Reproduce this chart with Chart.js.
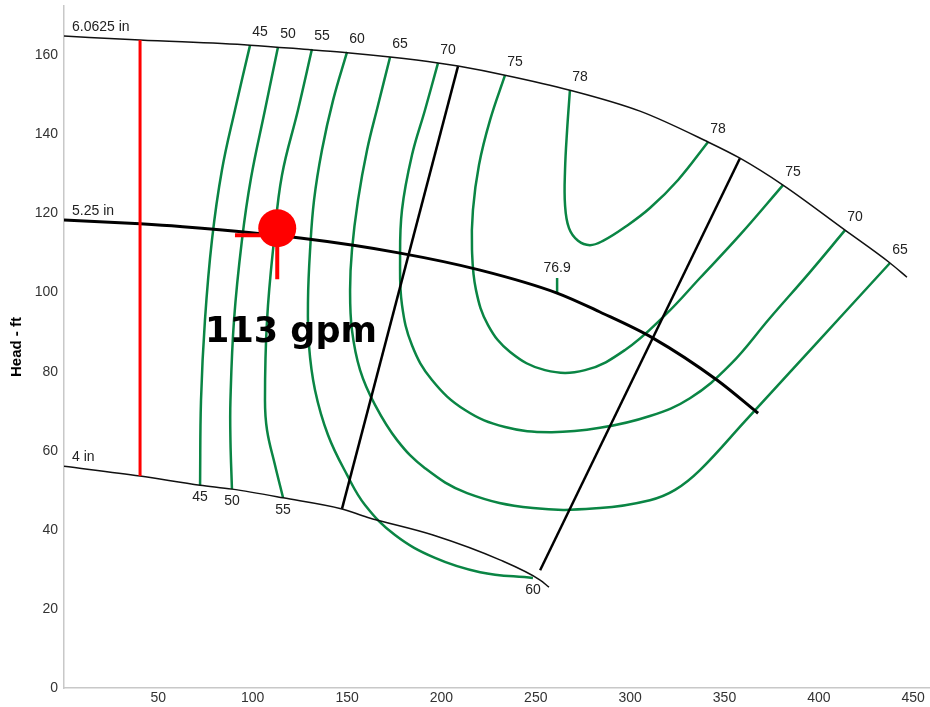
<!DOCTYPE html>
<html>
<head>
<meta charset="utf-8">
<script src="https://cdn.jsdelivr.net/npm/chart.js@4.4.1/dist/chart.umd.min.js"></script>
<style>
  html, body { margin: 0; padding: 0; background: #fff; }
  #wrap { width: 930px; height: 707px; }
</style>
</head>
<body>
<div id="wrap"><canvas id="pumpChart"></canvas></div>
<script>
// impeller curves, [flow gpm, head ft]
const dia60625 = [[0, 164.9], [40.3, 163.9], [98.6, 162.6], [131.4, 161.4], [150, 160.7],
  [172.8, 159.6], [198.2, 158.1], [208.8, 157.3], [233.7, 155], [268.1, 151.2], [305.2, 145.9],
  [341.3, 138.1], [358.2, 134], [381, 127.2], [413.9, 115.8], [437.7, 107.5], [446.7, 103.9]];
const dia525 = [[0, 118.4], [40.3, 117.4], [61.5, 116.7], [125.1, 113.8], [178.1, 110], [220.5, 105.7],
  [261.3, 99.9], [284, 95.1], [312.1, 88.5], [346, 77.9], [367.8, 69.5]];
const dia4 = [[0, 56.1], [40.3, 53.6], [72.1, 51.3], [89, 50.3], [116.1, 48.1], [147.3, 45.3],
  [160.6, 43.2], [195.5, 38.7], [231, 32.4], [252.3, 27.3], [257, 25.5]];
const diaNames = ['6.0625 in', '5.25 in', '4 in'];

// efficiency contours (%)
const eff45 = [[98.6, 162.6], [90.6, 146.2], [83.7, 131], [78.4, 113.3], [74.7, 93.1], [72.6, 72.8], [72.1, 51.3]];
const eff50 = [[113.4, 162.1], [106.5, 146.2], [99.1, 129], [94.3, 113.3], [90.1, 93.1], [88.2, 72.8], [88.2, 62.7], [89, 50.3]];
const eff55 = [[131.4, 161.6], [124, 146.2], [115.5, 129.7], [111.3, 113.3], [107.6, 93.1], [106.5, 72.8],
  [107.6, 65.2], [111.8, 56.4], [116.1, 48.1]];
const eff60 = [[150, 160.9], [142.6, 148.7], [136.7, 136.1], [132.5, 123.4], [130.4, 110.8], [129.3, 98.1],
  [129.8, 86.7], [133, 75.4], [139.9, 64], [150, 53.9], [159.5, 46.3], [175.4, 38.7], [196.6, 32.9],
  [220.5, 29.3], [248.5, 27.8]];
const eff65 = [[172.8, 159.6], [166.4, 147.4], [160.6, 136.1], [155.8, 123.4], [152.6, 110.8], [151.6, 100.7],
  [152.6, 90.5], [156.9, 80.4], [164.8, 71.6], [176.5, 62.7], [191.3, 55.6], [213.6, 49.3], [248.5, 45.5],
  [284, 45.5], [310.5, 47.5], [323.8, 50.1], [337, 55.1], [360.9, 67.5], [384.7, 79.9], [413.9, 95.1], [437.7, 107.5]];
const eff70 = [[198.2, 158.1], [191.3, 146.2], [184.4, 134.8], [179.1, 120.9], [178.1, 108.2], [179.1, 96.9],
  [184.4, 86.7], [195, 77.9], [212.5, 70.3], [233.7, 66], [257.6, 64.7], [284, 65.8], [310.5, 68.8],
  [331.7, 73.3], [352.9, 81.7], [374.1, 93.6], [395.3, 105.2], [413.9, 115.8]];
const eff75 = [[233.7, 155], [225.8, 143.7], [219.9, 132.3], [216.7, 120.9], [216.2, 110.8], [218.3, 100.7],
  [224.7, 91.8], [236.4, 85], [254.9, 80.4], [276.1, 80.4], [297.3, 85.5], [318.5, 94.3], [337, 103.7],
  [358.2, 114.6], [381, 127.2]];
const eff78 = [[268.1, 151.2], [266.6, 141.1], [265.5, 131], [265.5, 122.2], [267.6, 116.3], [272.4, 113.1],
  [278.7, 112], [285.6, 113.1], [297.3, 116.6], [310.5, 121.4], [325.4, 128.5], [341.3, 138.1]];
const effCurves = [eff45, eff50, eff55, eff60, eff65, eff70, eff75, eff78];
const effNames = ['45', '50', '55', '60', '65', '70', '75', '78'];

// operating region limits
const porLeft = [[208.8, 157.3], [147.3, 45.3]];
const porRight = [[358.2, 134], [252.3, 29.8]];

// minimum flow line
const minFlow = [[40.3, 163.9], [40.3, 53.6]];

// best efficiency point on 5.25 in
const bepTick = [[261.3, 99.9], [261.3, 103.7]];
const bepName = '76.9';

// duty point
const opPoint = [[113, 116.3]];
const opCross = [[90.6, 114.5], [113, 114.5], [113, 103.4]];
const opText = '113 gpm';
const opTextAt = [120.3, 89.8];

const toXY = arr => arr.map(([x, y]) => ({ x, y }));
const line = (data, color, width, extra) => Object.assign({
  data: toXY(data), showLine: true, borderColor: color, borderWidth: width,
  pointRadius: 0, fill: false
}, extra || {});

const green = '#0a8544';
const datasets = [
  { data: toXY(opPoint), showLine: false, pointRadius: 19, pointBackgroundColor: '#ff0000', pointBorderWidth: 0 },
  line(opCross, '#ff0000', 4),
  line(minFlow, '#ff0000', 3),
  line(dia525, '#000', 3, { cubicInterpolationMode: 'monotone' }),
  line(dia60625, '#111', 1.5, { cubicInterpolationMode: 'monotone' }),
  line(dia4, '#111', 1.5, { cubicInterpolationMode: 'monotone' }),
  line(porLeft, '#000', 2.5),
  line(porRight, '#000', 2.5),
  line(bepTick, green, 2.5)
].concat(effCurves.map(c => line(c, green, 2.5, { tension: 0.4 })));

const tickFont = { family: "'Liberation Sans', Arial, sans-serif", size: 14 };

const curveLabels = {
  id: 'curveLabels',
  afterDatasetsDraw(chart) {
    const { ctx, scales: { x, y } } = chart;
    const px = p => [x.getPixelForValue(p[0]), y.getPixelForValue(p[1])];
    ctx.save();
    ctx.font = "14px 'Liberation Sans', Arial, sans-serif";
    ctx.fillStyle = '#222';
    ctx.textBaseline = 'middle';
    ctx.textAlign = 'left';
    [dia60625, dia525, dia4].forEach((c, i) => {
      const [a, b] = px(c[0]);
      ctx.fillText(diaNames[i], a + 8, b - 9);
    });
    ctx.textAlign = 'center';
    effCurves.forEach((c, i) => {
      const [a, b] = px(c[0]);
      ctx.fillText(effNames[i], a + 10, b - 13);
      const [e, f] = px(c[c.length - 1]);
      if (i < 4) ctx.fillText(effNames[i], e, f + 12);
      else ctx.fillText(effNames[i], e + 10, f - 13);
    });
    const [bx, by] = px(bepTick[1]);
    ctx.fillText(bepName, bx, by - 10);
    ctx.font = "bold 35px 'DejaVu Sans', sans-serif";
    ctx.fillStyle = '#000';
    const [tx, ty] = px(opTextAt);
    ctx.fillText(opText, tx, ty);
    ctx.restore();
  }
};

new Chart(document.getElementById('pumpChart').getContext('2d'), {
  type: 'scatter',
  data: { datasets },
  options: {
    responsive: true,
    maintainAspectRatio: false,
    animation: false,
    events: [],
    layout: { autoPadding: false, padding: { top: 6, right: 0, bottom: 0, left: 0 } },
    plugins: { legend: { display: false }, tooltip: { enabled: false } },
    scales: {
      x: {
        type: 'linear', min: 0, max: 458.9,
        grid: { display: false, drawTicks: false },
        border: { color: '#c8c8c8', width: 1.5 },
        ticks: {
          stepSize: 50, includeBounds: false, autoSkip: false, maxRotation: 0,
          padding: 2, color: '#333', font: tickFont,
          callback: v => (v === 0 ? '' : v)
        },
        afterFit: s => { s.height = 19; s.paddingLeft = 0; s.paddingRight = 0; }
      },
      y: {
        type: 'linear', min: 0, max: 172.5,
        grid: { display: false, drawTicks: false },
        border: { color: '#c8c8c8', width: 1.5 },
        ticks: { stepSize: 20, includeBounds: false, padding: 6, color: '#333', font: tickFont },
        title: {
          display: true, text: 'Head - ft', color: '#000',
          font: { family: "'Liberation Sans', Arial, sans-serif", size: 15, weight: 'bold' },
          padding: { top: 8, bottom: 0 }
        },
        afterFit: s => { s.width = 64; s.paddingTop = 0; s.paddingBottom = 0; }
      }
    }
  },
  plugins: [curveLabels]
});
</script>
</body>
</html>
